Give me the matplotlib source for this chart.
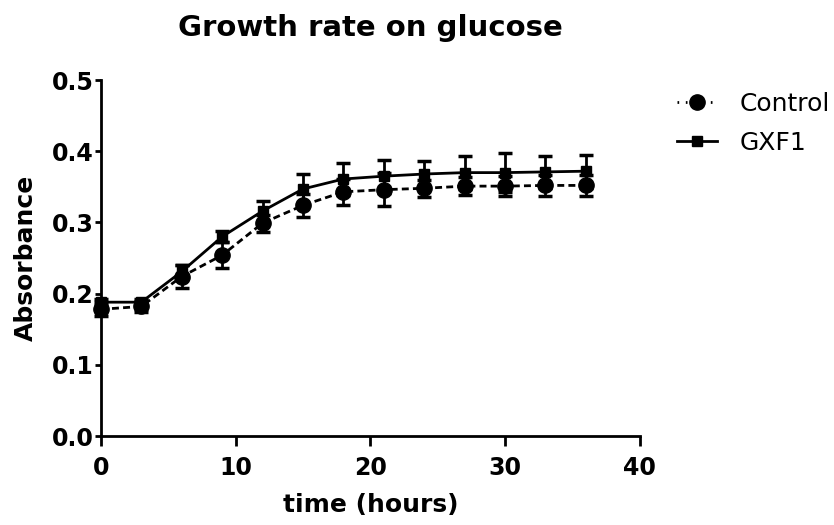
import matplotlib.pyplot as plt
from matplotlib.lines import Line2D

# time points (hours)
hours = [0, 3, 6, 9, 12, 15, 18, 21, 24, 27, 30, 33, 36]

control = [0.178, 0.182, 0.224, 0.254, 0.299, 0.324, 0.343, 0.346, 0.348, 0.351, 0.351, 0.352, 0.352]
control_err = [0.010, 0.008, 0.016, 0.018, 0.012, 0.016, 0.018, 0.023, 0.012, 0.013, 0.014, 0.015, 0.015]

gxf1 = [0.188, 0.188, 0.231, 0.280, 0.316, 0.347, 0.361, 0.365, 0.368, 0.370, 0.370, 0.371, 0.372]
gxf1_err = [0.004, 0.004, 0.009, 0.008, 0.014, 0.021, 0.023, 0.023, 0.019, 0.023, 0.027, 0.022, 0.023]

plt.rcParams['font.family'] = ['DejaVu Sans']

fig = plt.figure(figsize=(8.34, 5.25), dpi=100)
ax = fig.add_axes([0.121, 0.1695, 0.646, 0.678])

dash = (0, (2.5, 1.5))
ax.errorbar(hours, control, yerr=control_err, color='black', linestyle=dash,
            linewidth=2, marker='o', markersize=11, capsize=4.7, capthick=2.5,
            elinewidth=2, clip_on=False, zorder=3)
ax.errorbar(hours, gxf1, yerr=gxf1_err, color='black', linestyle='-',
            linewidth=2, marker='s', markersize=7.5, capsize=4.7, capthick=2.5,
            elinewidth=2, clip_on=False, zorder=3)

ax.set_xlim(0, 40)
ax.set_ylim(0, 0.5)
ax.set_xticks([0, 10, 20, 30, 40])
ax.set_yticks([0.0, 0.1, 0.2, 0.3, 0.4, 0.5])
ax.set_yticklabels(['0.0', '0.1', '0.2', '0.3', '0.4', '0.5'])

for side in ['top', 'right']:
    ax.spines[side].set_visible(False)
for side in ['left', 'bottom']:
    ax.spines[side].set_linewidth(2)
ax.tick_params(axis='x', width=2, length=7.5, labelsize=17, pad=7)
ax.tick_params(axis='y', width=2, length=4.5, labelsize=17, pad=1)
for lbl in ax.get_xticklabels() + ax.get_yticklabels():
    lbl.set_fontweight('bold')

ax.set_xlabel('time (hours)', fontsize=18, fontweight='bold', labelpad=9)
ax.set_ylabel('Absorbance', fontsize=18, fontweight='bold', labelpad=10)
ax.set_title('Growth rate on glucose', fontsize=21, fontweight='bold', pad=32)

handles = [
    Line2D([], [], color='black', linestyle=(0, (0.6, 2.4)), linewidth=2,
           marker='o', markersize=11),
    Line2D([], [], color='black', linestyle='-', linewidth=2,
           marker='s', markersize=7.5),
]
fig.legend(handles, ['Control', 'GXF1'], loc='upper left',
           bbox_to_anchor=(677 / 834, 1 - 92 / 525), frameon=False, fontsize=18,
           handlelength=1.6, handletextpad=0.9, labelspacing=0.6,
           borderpad=0, borderaxespad=0)

plt.savefig('out.png', dpi=100)
